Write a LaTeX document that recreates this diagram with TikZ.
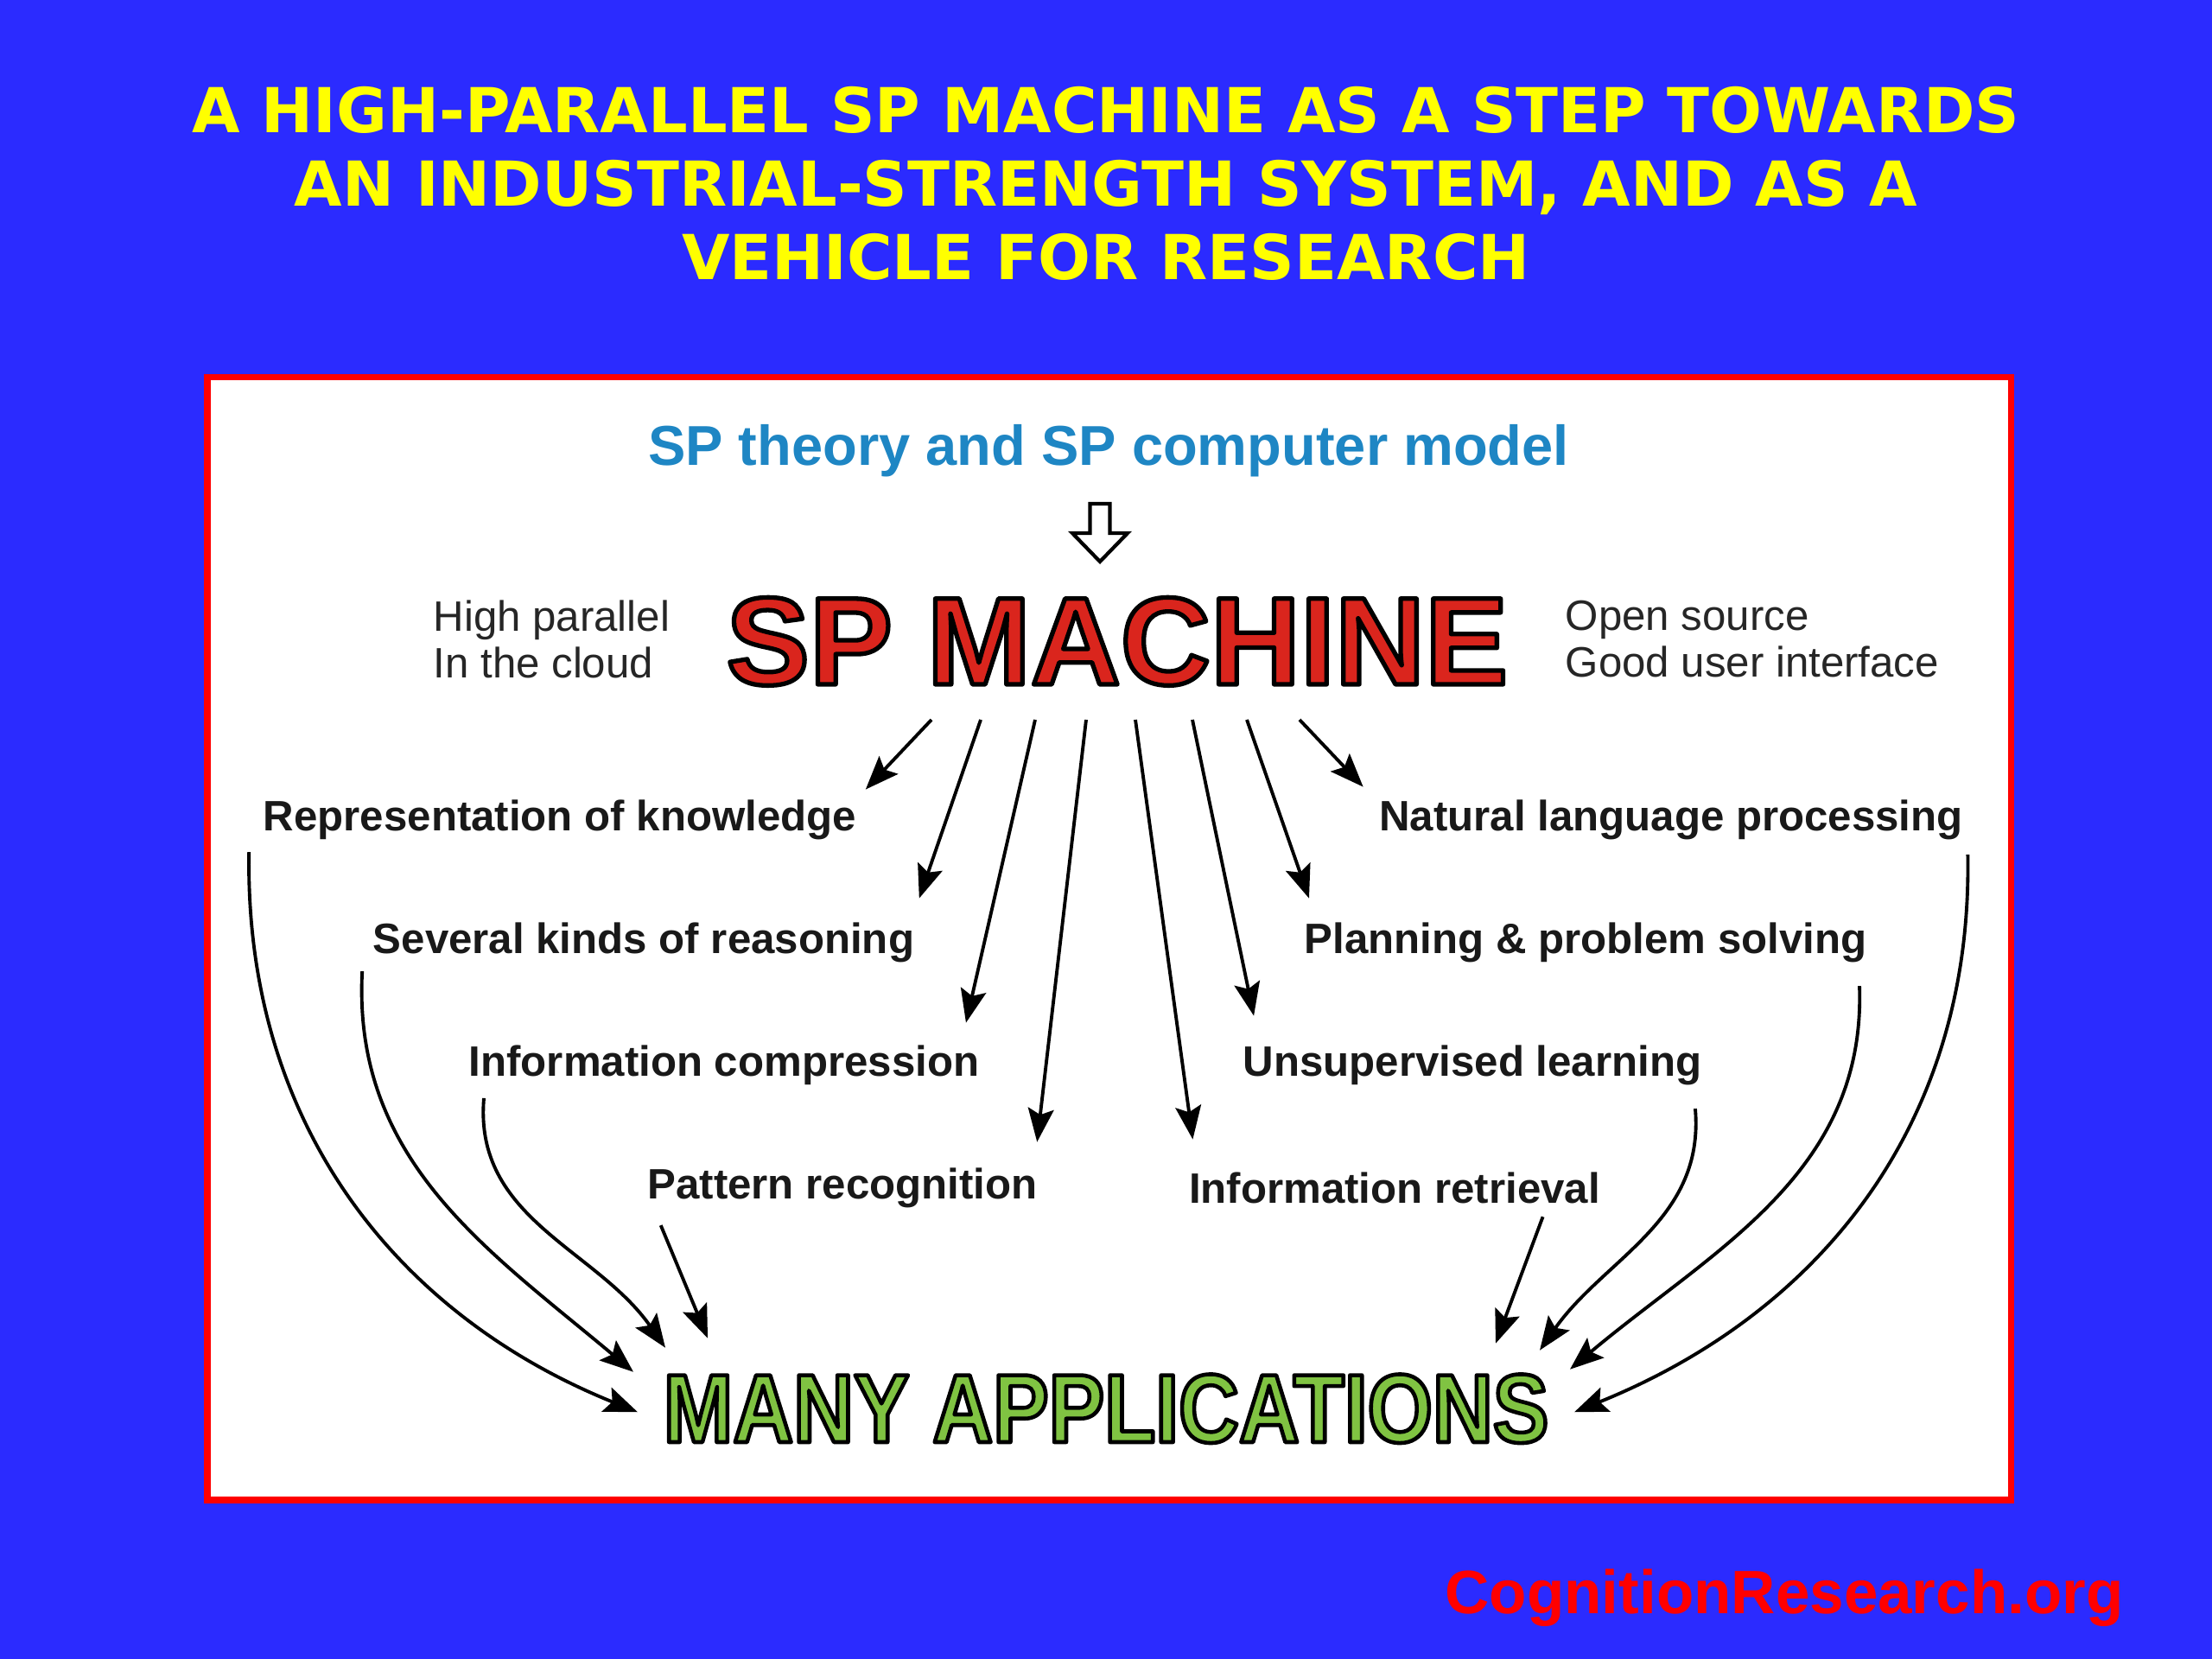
\documentclass[tikz,border=0pt]{standalone}
\usepackage{fontspec}
\setmainfont{Liberation Sans}
\newfontfamily\titlefont{DejaVu Sans}
\newfontfamily\narrowfont[FakeStretch=0.86]{Liberation Sans}
\usetikzlibrary{arrows.meta, calc}

\definecolor{hatterkek}{RGB}{43,43,255}
\definecolor{cimsarga}{RGB}{255,255,0}
\definecolor{elmkek}{RGB}{30,134,196}
\definecolor{gepvoros}{RGB}{218,37,29}
\definecolor{alkzold}{RGB}{128,195,66}

% körvonalas szöveg: kitöltés + fekete körvonal
\newcommand{\korvonal}[2]{\special{pdf:literal direct q #1 w 0 0 0 RG 1 j 2 Tr}#2\special{pdf:literal direct Q}}

\begin{document}
\begin{tikzpicture}[
        felirat/.style={inner sep=0pt, anchor=base, text=black!90,
            font=\fontsize{14}{16}\selectfont\bfseries},
        megjegyzes/.style={inner sep=0pt, anchor=west, align=left, text=black!85,
            font=\fontsize{14}{15.4}\selectfont},
        gepfelirat/.style={inner sep=0pt, anchor=base, text=gepvoros,
            font=\fontsize{41}{45}\selectfont\bfseries},
        alkfelirat/.style={inner sep=0pt, anchor=base, text=alkzold,
            font=\narrowfont\fontsize{32}{36}\selectfont\bfseries},
        nyil/.style={line width=1.1pt, -{Stealth[length=11pt, width=8.5pt, inset=2pt]}}
    ]
                % 1. Háttér és a fehér keret
                \fill[hatterkek] (0,0) rectangle (25.6,19.2);
                \draw[red, line width=2pt, fill=white] (2.40,1.84) rectangle (23.27,14.83);

                % 2. Cím és lábléc
                \node[text=cimsarga, align=center,
                    font=\titlefont\fontsize{20.4}{24.2}\selectfont\bfseries] (cim) at (12.8,17.08)
                    {A HIGH-PARALLEL SP MACHINE AS A STEP TOWARDS\\
                     AN INDUSTRIAL-STRENGTH SYSTEM, AND AS A\\
                     VEHICLE FOR RESEARCH};
                \node[inner sep=0pt, anchor=base, text=red,
                    font=\fontsize{20.2}{22}\selectfont\bfseries] (lablec) at (20.65,0.52)
                    {CognitionResearch.org};

                % 3. Felső rész: elmélet, üres nyíl, SP MACHINE
                \node[inner sep=0pt, anchor=base, text=elmkek,
                    font=\fontsize{18.5}{20}\selectfont\bfseries] (elmelet) at (12.83,13.81)
                    {SP theory and SP computer model};
                \coordinate (ureso) at (12.73,13.37);
                \draw[line width=1.2pt, fill=white, line join=miter]
                    ($(ureso)+(-0.115,0)$) -- ++(0,-0.34) -- ++(-0.205,0) -- ($(ureso)+(0,-0.67)$)
                    -- ($(ureso)+(0.32,-0.34)$) -- ++(-0.205,0) -- ($(ureso)+(0.115,0)$) -- cycle;

                \node[gepfelirat] (spm) at (12.93,11.28) {\korvonal{1.5}{SP MACHINE}};

                \node[megjegyzes] (bal) at (5.01,11.80) {High parallel\\In the cloud};
                \node[megjegyzes] (jobb) at (18.11,11.80) {Open source\\Good user interface};

                % 4. Képességek (bal és jobb oszlop)
                \node[felirat] (rep) at (6.48,9.58) {Representation of knowledge};
                \node[felirat] (reason) at (7.45,8.16) {Several kinds of reasoning};
                \node[felirat] (compress) at (8.38,6.74) {Information compression};
                \node[felirat] (pattern) at (9.75,5.32) {Pattern recognition};
                \node[felirat] (nlp) at (19.34,9.58) {Natural language processing};
                \node[felirat] (plan) at (18.35,8.16) {Planning \& problem solving};
                \node[felirat] (unsup) at (17.04,6.74) {Unsupervised learning};
                \node[felirat] (retrieval) at (16.14,5.27) {Information retrieval};

                % 5. MANY APPLICATIONS
                \node[alkfelirat] (apps) at (12.80,2.51) {\korvonal{1.3}{MANY APPLICATIONS}};

                % 6. Legyező nyilak az SP MACHINE alól
                \foreach \dx/\cel/\ex/\ey in {
                        -2.15/rep.north east/0.10/0.12,
                        -1.58/reason.north east/0.05/0.28,
                        -0.95/compress.north east/-0.16/0.26,
                        -0.36/pattern.north east/-0.01/0.30,
                        0.21/retrieval.north west/0.05/0.38,
                        0.87/unsup.north west/0.13/0.34,
                        1.50/plan.north west/0.06/0.28,
                        2.11/nlp.north west/-0.18/0.15} {
                    \draw[nyil] ($(spm.base)+(\dx,-0.41)$) -- ($(\cel)+(\ex,\ey)$);
                }

                % 7. Ívelt nyilak a MANY APPLICATIONS felé
                \draw[nyil] ($(rep.south west)+(-0.16,-0.13)$) to[out=-91,in=158] ($(apps.west)+(-0.29,-0.04)$);
                \draw[nyil] ($(reason.south west)+(-0.12,-0.09)$) to[out=-93,in=140] ($(apps.north west)+(-0.34,0.02)$);
                \draw[nyil] ($(compress.south west)+(0.18,-0.14)$) to[out=-95,in=125] ($(apps.north west)+(0.03,0.30)$);
                \draw[nyil] ($(pattern.south west)+(0.16,-0.19)$) -- ($(apps.north west)+(0.52,0.41)$);
                \draw[nyil] ($(retrieval.south east)+(-0.67,-0.14)$) -- ($(apps.north east)+(-0.62,0.35)$);
                \draw[nyil] ($(unsup.south east)+(-0.08,-0.26)$) to[out=-85,in=55] ($(apps.north east)+(-0.11,0.27)$);
                \draw[nyil] ($(plan.south east)+(-0.09,-0.26)$) to[out=-88,in=40] ($(apps.north east)+(0.24,0.05)$);
                \draw[nyil] ($(nlp.south east)+(0.05,-0.16)$) to[out=-89,in=22] ($(apps.east)+(0.29,-0.04)$);
\end{tikzpicture}
\end{document}
